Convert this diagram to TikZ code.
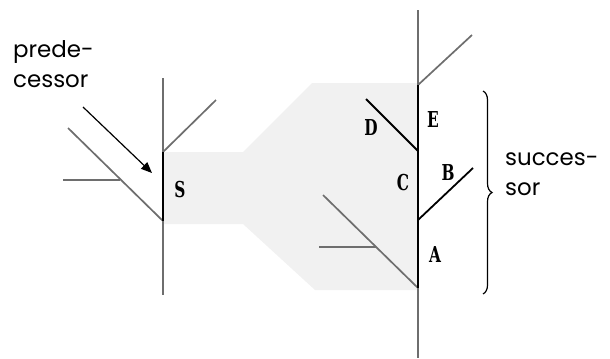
\documentclass[tikz,border=0pt]{standalone}
\usepackage{fontspec}
\newfontfamily\wordfont{Poppins}
\newfontfamily\letfont{DejaVu Serif}
\usetikzlibrary{arrows.meta,decorations.pathreplacing}
\definecolor{bandgray}{HTML}{F1F1F1}
\definecolor{axisgray}{HTML}{6E6E6E}
\tikzset{
  axisline/.style={draw=axisgray,line width=1.7bp},
  activeline/.style={draw=black,line width=2.4bp},
  boldbranch/.style={draw=black,line width=1.8bp},
  letter/.style={font=\letfont\bfseries\fontsize{22}{22}\selectfont,inner sep=0pt,xscale=0.7},
  word/.style={font=\wordfont\fontsize{23}{30}\selectfont,align=left,inner sep=0pt},
  pointer/.style={draw=black,line width=1.2bp,-{Triangle[length=11bp,width=9bp]}},
  bracestyle/.style={draw=black,line width=1.2bp,decorate,decoration={brace,amplitude=9bp}}
}
\begin{document}
\begin{tikzpicture}[x=1bp,y=-1bp]
\useasboundingbox (0,0) rectangle (610,358);
% shaded region
\fill[bandgray] (163,152) -- (243,152) -- (312,83) -- (418,83) -- (418,290) -- (315,290) -- (243,224) -- (163,224) -- cycle;
% coordinates, left unit
\coordinate (Stop) at (163,78);
\coordinate (S1) at (163,152);
\coordinate (S2) at (163,221);
\coordinate (Sbot) at (163,295);
\coordinate (Sup) at (216,100);
\coordinate (Sdl) at (68,128);
\coordinate (Shl) at (63,180);
\coordinate (Shr) at (120,180);
\coordinate (Pa) at (83,107);
\coordinate (Pb) at (152,173);
% coordinates, right unit
\coordinate (Rtop) at (418,10);
\coordinate (R1) at (418,85);
\coordinate (R2) at (418,151);
\coordinate (R3) at (418,220);
\coordinate (R4) at (418,288);
\coordinate (Rbot) at (418,358);
\coordinate (Rup) at (472,35);
\coordinate (Dend) at (366,99);
\coordinate (Bend) at (473,168);
\coordinate (Rdl) at (323,195);
\coordinate (Rhl) at (319,247);
\coordinate (Rhr) at (376,247);
\coordinate (Btop) at (483,91);
\coordinate (Bbot) at (483,294);
% left unit
\draw[axisline] (Stop) -- (S1);
\draw[axisline] (S2) -- (Sbot);
\draw[axisline] (S1) -- (Sup);
\draw[axisline] (Sdl) -- (S2);
\draw[axisline] (Shl) -- (Shr);
\draw[activeline] (S1) -- (S2);
\draw[pointer] (Pa) -- (Pb);
\node[letter] (S) at (180,190) {S};
\node[word,anchor=north west] (pred) at (13,40) {prede-\\cessor};
% right unit
\draw[axisline] (Rtop) -- (R1);
\draw[axisline] (R4) -- (Rbot);
\draw[axisline] (R1) -- (Rup);
\draw[axisline] (Rdl) -- (R4);
\draw[axisline] (Rhl) -- (Rhr);
\draw[boldbranch] (Dend) -- (R2);
\draw[boldbranch] (R3) -- (Bend);
\draw[activeline] (R1) -- (R4);
\node[letter] (D) at (371,128) {D};
\node[letter] (E) at (433,120) {E};
\node[letter] (C) at (403,183) {C};
\node[letter] (B) at (448,173) {B};
\node[letter] (A) at (435,255) {A};
\draw[bracestyle] (Btop) -- (Bbot);
\node[word,anchor=north west] (succ) at (505,153) {succes-\\sor};
\end{tikzpicture}
\end{document}
